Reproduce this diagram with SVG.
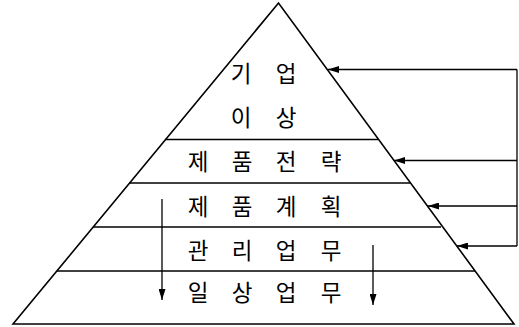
<svg xmlns="http://www.w3.org/2000/svg" width="519" height="327" viewBox="0 0 519 327">
<style>
.ln{stroke:#000;stroke-width:1.6;fill:none}
.cn{stroke:#000;stroke-width:1.3;fill:none}
.t{font-family:"Noto Sans CJK KR","Noto Sans",sans-serif;font-size:22.5px;fill:#000;text-anchor:middle}
</style>
<defs>
<marker id="ah" markerWidth="11" markerHeight="7" refX="11" refY="3.5" orient="auto" markerUnits="userSpaceOnUse">
<path d="M0,0 L11,3.5 L0,7 Z" fill="#000"/>
</marker>
</defs>
<rect width="519" height="327" fill="#fff"/>
<g id="pyramid">
<path class="ln" d="M13,324 L278.5,3 L514,324 Z"/>
</g>
<g id="layer-vision">
<text class="t" x="241" y="82">기</text>
<text class="t" x="286" y="82">업</text>
<text class="t" x="241" y="126">이</text>
<text class="t" x="286" y="126">상</text>
</g>
<g id="layer-strategy">
<line class="ln" x1="165" y1="139.5" x2="378" y2="139.5"/>
<text class="t" x="198" y="170">제</text>
<text class="t" x="242" y="170">품</text>
<text class="t" x="286" y="170">전</text>
<text class="t" x="331" y="170">략</text>
</g>
<g id="layer-plan">
<line class="ln" x1="129" y1="183" x2="410" y2="183"/>
<text class="t" x="198" y="215">제</text>
<text class="t" x="242" y="215">품</text>
<text class="t" x="286" y="215">계</text>
<text class="t" x="331" y="215">획</text>
</g>
<g id="layer-management">
<line class="ln" x1="93" y1="227" x2="441" y2="227"/>
<text class="t" x="198" y="259">관</text>
<text class="t" x="242" y="259">리</text>
<text class="t" x="286" y="259">업</text>
<text class="t" x="331" y="259">무</text>
</g>
<g id="layer-daily">
<line class="ln" x1="57" y1="271" x2="475" y2="271"/>
<text class="t" x="198" y="301">일</text>
<text class="t" x="242" y="301">상</text>
<text class="t" x="286" y="301">업</text>
<text class="t" x="331" y="301">무</text>
</g>
<g id="connectors">
<path class="cn" d="M517,69.5 L517,246"/>
<line class="cn" x1="517" y1="69.5" x2="328" y2="69.5" marker-end="url(#ah)"/>
<line class="cn" x1="517" y1="160.5" x2="394" y2="160.5" marker-end="url(#ah)"/>
<line class="cn" x1="517" y1="206" x2="428" y2="206" marker-end="url(#ah)"/>
<line class="cn" x1="517" y1="246" x2="457" y2="246" marker-end="url(#ah)"/>
<line class="cn" x1="162" y1="199" x2="162" y2="300" marker-end="url(#ah)"/>
<line class="cn" x1="373" y1="245" x2="373" y2="305" marker-end="url(#ah)"/>
</g>
</svg>
